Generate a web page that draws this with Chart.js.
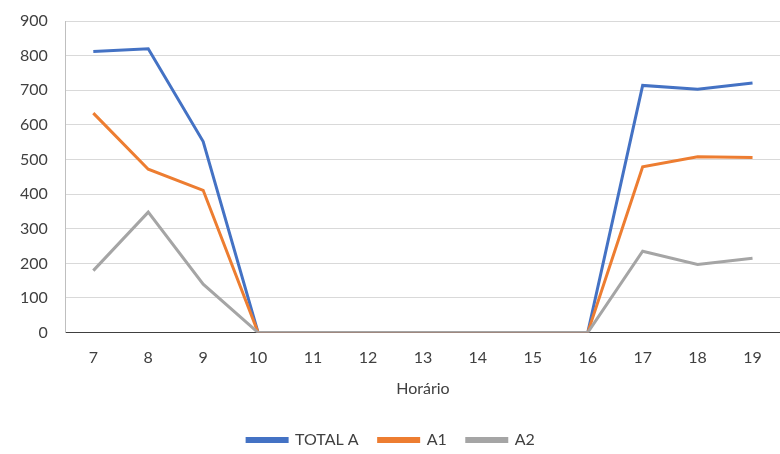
<!DOCTYPE html>
<html>
<head>
<meta charset="utf-8">
<script src="https://cdn.jsdelivr.net/npm/chart.js@4/dist/chart.umd.min.js"></script>
<style>
html,body{margin:0;padding:0;background:#fff;}
#wrap{width:780px;height:454px;}
</style>
</head>
<body>
<div id="wrap"><canvas id="c" width="780" height="454"></canvas></div>
<script>
const categories = ['7','8','9','10','11','12','13','14','15','16','17','18','19'];
const totalA = [812, 820, 552, 0, 0, 0, 0, 0, 0, 0, 714, 703, 721];
const a1 = [634, 472, 411, 0, 0, 0, 0, 0, 0, 0, 479, 508, 506];
const a2 = [179, 348, 140, 0, 0, 0, 0, 0, 0, 0, 235, 197, 215];
const yTicks = [0, 100, 200, 300, 400, 500, 600, 700, 800, 900];
const xTitle = 'Horário';

const FONT = 'Lato, "Open Sans", sans-serif';
const legendShift = {
  id: 'legendShift',
  afterLayout(chart) {
    if (chart.legend) { chart.legend.top += 4; chart.legend.bottom += 4; }
  }
};
new Chart(document.getElementById('c'), {
  type: 'line',
  plugins: [legendShift],
  data: {
    labels: categories,
    datasets: [
      {label: 'TOTAL A', data: totalA, order: 3, borderColor: '#4472C4', backgroundColor: '#4472C4', borderWidth: 3, pointRadius: 0, tension: 0},
      {label: 'A1', data: a1, order: 2, borderColor: '#ED7D31', backgroundColor: '#ED7D31', borderWidth: 3, pointRadius: 0, tension: 0},
      {label: 'A2', data: a2, order: 1, borderColor: '#A5A5A5', backgroundColor: '#A5A5A5', borderWidth: 3, pointRadius: 0, tension: 0}
    ]
  },
  options: {
    responsive: false,
    animation: false,
    devicePixelRatio: 1,
    layout: {autoPadding: false, padding: {left: 2, right: 0, top: 21, bottom: 0}},
    plugins: {
      legend: {
        position: 'bottom',
        labels: {
          boxWidth: 40, boxHeight: 3, padding: 20, color: '#404040', font: {family: FONT, size: 16},
          sort: (a, b) => a.datasetIndex - b.datasetIndex
        }
      },
      tooltip: {enabled: false}
    },
    scales: {
      x: {
        offset: true,
        grid: {display: false, drawTicks: false},
        border: {color: '#404040', width: 1},
        ticks: {color: '#404040', font: {family: FONT, size: 16}, padding: 16, maxRotation: 0},
        title: {display: true, text: xTitle, color: '#404040', font: {family: FONT, size: 16}, padding: {top: -5, bottom: 10}}
      },
      y: {
        min: 0, max: 900,
        afterBuildTicks: (ax) => { ax.ticks = yTicks.map(v => ({value: v})); },
        afterFit: (s) => { s.paddingTop = 0; s.paddingBottom = 0; },
        grid: {color: '#D9D9D9', drawTicks: false, lineWidth: 1},
        border: {color: '#BFBFBF', width: 1},
        ticks: {color: '#404040', font: {family: FONT, size: 16}, padding: 18}
      }
    }
  }
});
</script>
</body>
</html>
